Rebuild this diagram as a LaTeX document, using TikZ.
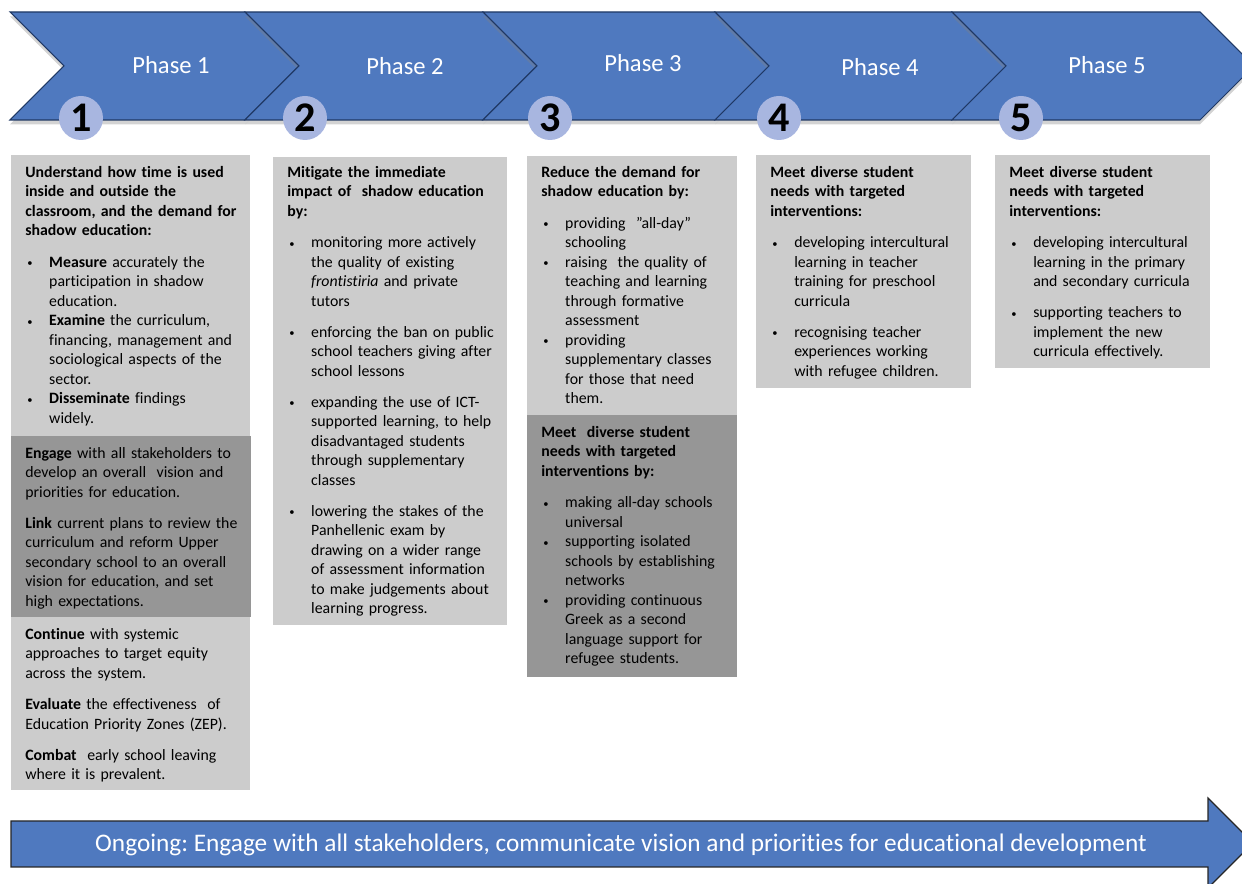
\documentclass[tikz,border=0pt]{standalone}
\usepackage{fontspec}
\setmainfont{Carlito}[Ligatures=NoCommon]
\usetikzlibrary{shadows}

\definecolor{phaseblue}{RGB}{79,121,191}
\definecolor{phaseline}{RGB}{31,56,100}
\definecolor{dotblue}{RGB}{168,182,224}
\definecolor{lightbox}{RGB}{204,204,204}
\definecolor{darkbox}{RGB}{150,150,150}

% bullet line with hanging indent
\newcommand{\pitem}[1]{\par\noindent\hangindent=13.6pt\hangafter=1\makebox[13.6pt][l]{\hspace{1.2pt}\raisebox{0.3pt}{\fontsize{6}{6}\selectfont\textbullet}}#1\par}
\newcommand{\gap}{\par\vspace{6.6pt}}

\tikzset{
  chevron/.style={fill=phaseblue, draw=phaseline, line width=0.6pt,
    drop shadow={opacity=0.35, shadow xshift=0pt, shadow yshift=-2.5pt}},
  phaselabel/.style={text=white, font=\fontsize{14}{16}\selectfont},
  numdot/.style={circle, fill=dotblue, minimum size=0.88cm, inner sep=0pt,
    font=\fontsize{24}{24}\selectfont\bfseries},
  boxtext/.style={anchor=north west, inner sep=0pt, text width=#1, align=left,
    font=\fontsize{9}{11.1}\selectfont\frenchspacing},
  ongoing/.style={fill=phaseblue, draw=black!85, line width=0.7pt},
}

\begin{document}
\begin{tikzpicture}[x=0.02cm, y=-0.02cm]
  \useasboundingbox (0,0) rectangle (1242,884);

  % phases
  \foreach \xa/\xb/\lx/\ly/\cx/\n in {10/245/171/65/81/1, 245/483/405/66/305/2,
      483/715/643/63/550/3, 715/952/880/67/779/4, 952/1200/1107/65/1021/5} {
    \draw[chevron] (\xa,12) -- (\xb,12) -- (\xb+54,66) -- (\xb,120) -- (\xa,120) -- (\xa+54,66) -- cycle;
    \node[phaselabel] (phase\n) at (\lx,\ly) {Phase \n};
  }
  \foreach \cx/\n in {81/1, 305/2, 550/3, 779/4, 1021/5}
    \node[numdot] (dot\n) at (\cx,118) {\n};

  % boxes
  \fill[lightbox] (11,155) rectangle (250,436);
  \fill[darkbox] (11,436) rectangle (251,617);
  \fill[lightbox] (11,617) rectangle (250,790);
  \fill[lightbox] (273,157) rectangle (507,625);
  \fill[lightbox] (527,156) rectangle (737,415);
  \fill[darkbox] (527,415) rectangle (737,677);
  \fill[lightbox] (756,155) rectangle (971,388);
  \fill[lightbox] (995,155) rectangle (1210,368);

  \node[boxtext=4.4cm] (understand) at (25,166) {%
    \textbf{Understand how time is used\newline inside and outside the\newline classroom, and the demand for\newline shadow education:}\gap
    \pitem{\textbf{Measure} accurately the\newline participation in shadow\newline education.}
    \pitem{\textbf{Examine} the curriculum,\newline financing, management and\newline sociological aspects of the\newline sector.}
    \pitem{\textbf{Disseminate} findings\newline widely.}};
  \node[boxtext=4.4cm] (engage) at (25,447) {%
    \textbf{Engage} with all stakeholders to\newline develop an overall\ \ vision and\newline priorities for education.\gap
    \textbf{Link} current plans to review the\newline curriculum and reform Upper\newline secondary school to an overall\newline vision for education, and set\newline high expectations.\par};
  \node[boxtext=4.4cm] (continue) at (25,628) {%
    \textbf{Continue} with systemic\newline approaches to target equity\newline across the system.\gap
    \textbf{Evaluate} the effectiveness\ \ of\newline Education Priority Zones (ZEP).\gap
    \textbf{Combat}\ \ early school leaving\newline where it is prevalent.\par};
  \node[boxtext=4.3cm] (mitigate) at (287,166) {%
    \textbf{Mitigate the immediate\newline impact of\ \ shadow education\newline by:}\gap
    \pitem{monitoring more actively\newline the quality of existing\newline \textit{frontistiria} and private\newline tutors}\gap
    \pitem{enforcing the ban on public\newline school teachers giving after\newline school lessons}\gap
    \pitem{expanding the use of ICT-\newline supported learning, to help\newline disadvantaged students\newline through supplementary\newline classes}\gap
    \pitem{lowering the stakes of the\newline Panhellenic exam by\newline drawing on a wider range\newline of assessment information\newline to make judgements about\newline learning progress.}};
  \node[boxtext=3.85cm] (reduce) at (541,166) {%
    \textbf{Reduce the demand for\newline shadow education by:}\gap
    \pitem{providing\ \ ”all-day”\newline schooling}
    \pitem{raising\ \ the quality of\newline teaching and learning\newline through formative\newline assessment}
    \pitem{providing\newline supplementary classes\newline for those that need\newline them.}};
  \node[boxtext=3.85cm] (meet3) at (541,426) {%
    \textbf{Meet\ \ diverse student\newline needs with targeted\newline interventions by:}\gap
    \pitem{making all-day schools\newline universal}
    \pitem{supporting isolated\newline schools by establishing\newline networks}
    \pitem{providing continuous\newline Greek as a second\newline language support for\newline refugee students.}};
  \node[boxtext=3.95cm] (meet4) at (770,166) {%
    \textbf{Meet diverse student\newline needs with targeted\newline interventions:}\gap
    \pitem{developing intercultural\newline learning in teacher\newline training for preschool\newline curricula}\gap
    \pitem{recognising teacher\newline experiences working\newline with refugee children.}};
  \node[boxtext=3.95cm] (meet5) at (1009,166) {%
    \textbf{Meet diverse student\newline needs with targeted\newline interventions:}\gap
    \pitem{developing intercultural\newline learning in the primary\newline and secondary curricula}\gap
    \pitem{supporting teachers to\newline implement the new\newline curricula effectively.}};

  % ongoing arrow
  \draw[ongoing] (11,821) -- (1208,821) -- (1208,798) -- (1253,843) -- (1208,888) -- (1208,867) -- (11,867) -- cycle;
  \node[text=white, font=\fontsize{14.4}{17}\selectfont\frenchspacing] (ongoing) at (621,845)
    {Ongoing: Engage with all stakeholders, communicate vision and priorities for educational development};
\end{tikzpicture}
\end{document}
